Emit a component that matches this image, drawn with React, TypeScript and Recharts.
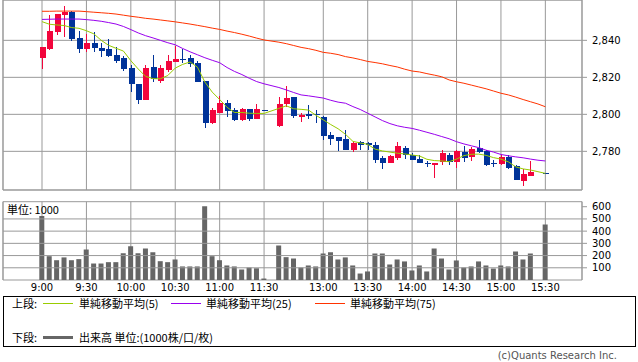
import React from "react";
import {
  ComposedChart,
  Bar,
  Line,
  XAxis,
  YAxis,
  CartesianGrid,
  ReferenceArea,
  ReferenceLine,
} from "recharts";

// slot index on the x axis -> label (slot 31 = lunch gap, slot 67 = 15:25, no trade)
const tickSlots = [0, 6, 12, 18, 24, 30, 38, 44, 50, 56, 62, 68];
const tickLabels = ["9:00", "9:30", "10:00", "10:30", "11:00", "11:30", "13:00", "13:30", "14:00", "14:30", "15:00", "15:30"];

const priceTicks = [2780, 2800, 2820, 2840];
const volumeTicks = [100, 200, 300, 400, 500, 600];
const volumeGrid = [100, 200, 300, 400, 500];

const openPrices = [
  2830.6, 2835.3, 2844.5, 2853.7, 2855.5, 2841.2, 2835.5, 2838.5, 2835.8, 2835.1,
  2832.1, 2830.6, 2825.0, 2816.4, 2807.9, 2825.6, 2818.0, 2823.8, 2828.3, 2829.9,
  2830.4, 2827.9, 2818.0, 2795.5, 2800.9, 2806.0, 2802.3, 2796.9, 2802.9, 2797.6,
  2802.4, null, 2793.7, 2805.7, 2809.2, 2798.7, 2800.2, 2800.2, 2798.7, 2788.8,
  2787.6, 2786.6, 2780.7, 2784.9, 2784.3, 2783.2, 2776.5, 2773.8, 2776.5, 2782.0,
  2777.8, 2775.8, 2773.8, 2772.8, 2774.2, 2778.0, 2774.0, 2779.6, 2776.8, 2781.6,
  2780.2, 2773.8, 2773.1, 2776.8, 2772.0, 2764.1, 2766.8, null, 2768.3,
];
const closePrices = [
  2836.5, 2845.0, 2854.2, 2855.5, 2840.7, 2835.5, 2838.5, 2836.0, 2834.4, 2831.7,
  2828.8, 2824.5, 2816.4, 2807.9, 2825.0, 2819.1, 2825.0, 2828.8, 2829.7, 2829.4,
  2827.4, 2817.6, 2795.5, 2802.3, 2806.0, 2802.0, 2796.9, 2802.9, 2797.3, 2802.9,
  2802.0, null, 2805.6, 2808.8, 2799.2, 2799.6, 2799.1, 2799.6, 2788.4, 2786.6,
  2785.6, 2780.7, 2784.6, 2783.2, 2783.2, 2775.3, 2773.8, 2777.6, 2782.9, 2778.0,
  2775.3, 2773.8, 2773.1, 2773.8, 2778.9, 2774.4, 2780.2, 2776.5, 2781.1, 2779.8,
  2772.6, 2773.3, 2776.9, 2770.8, 2764.6, 2767.7, 2769.0, null, 2768.2,
];
const highPrices = [
  2836.5, 2853.7, 2854.5, 2858.7, 2855.8, 2844.9, 2843.2, 2844.3, 2838.5, 2840.7,
  2836.5, 2831.5, 2826.6, 2816.4, 2826.6, 2832.1, 2826.6, 2832.1, 2837.1, 2835.1,
  2832.2, 2828.8, 2818.0, 2803.6, 2810.0, 2807.7, 2803.2, 2803.2, 2802.9, 2805.4,
  2802.5, null, 2809.2, 2815.3, 2809.2, 2800.5, 2805.0, 2802.3, 2799.0, 2790.3,
  2787.8, 2791.5, 2785.7, 2785.5, 2785.0, 2785.0, 2777.6, 2778.0, 2785.2, 2782.9,
  2778.9, 2778.0, 2774.8, 2773.8, 2780.7, 2779.2, 2780.7, 2783.0, 2782.5, 2786.1,
  2780.7, 2775.3, 2778.0, 2777.8, 2772.6, 2770.4, 2774.8, null, 2768.4,
];
const lowPrices = [
  2824.5, 2834.8, 2843.0, 2842.0, 2839.8, 2833.3, 2833.8, 2833.8, 2831.1, 2831.0,
  2827.6, 2823.2, 2812.2, 2805.7, 2807.9, 2817.6, 2816.9, 2823.0, 2828.3, 2827.6,
  2825.7, 2817.6, 2792.8, 2794.8, 2800.9, 2798.7, 2796.5, 2796.5, 2796.4, 2797.3,
  2801.9, null, 2793.0, 2803.8, 2797.8, 2795.7, 2797.4, 2795.1, 2786.1, 2783.4,
  2780.2, 2780.5, 2779.5, 2780.7, 2780.7, 2773.8, 2770.3, 2773.8, 2775.3, 2775.7,
  2775.3, 2773.5, 2771.7, 2765.7, 2772.6, 2772.8, 2771.1, 2774.4, 2774.9, 2778.9,
  2772.2, 2771.7, 2772.4, 2770.4, 2764.4, 2761.4, 2766.6, null, 2768.1,
];
const volumes = [
  523, 195, 162, 185, 162, 171, 250, 135, 135, 146,
  146, 220, 277, 220, 258, 228, 154, 146, 168, 111,
  111, 111, 603, 195, 162, 119, 111, 86, 102, 97,
  12, null, 283, 187, 176, 102, 119, 111, 217, 228,
  168, 185, 119, 53, 70, 217, 217, 127, 168, 152,
  78, 119, 70, 258, 176, 86, 160, 102, 111, 152,
  119, 94, 119, 111, 234, 168, 217, null, 455,
];
const ma5 = [
  2850.1, 2848.7, 2848.3, 2848.0, 2846.9, 2846.5, 2845.2, 2843.5, 2840.0, 2837.3,
  2835.7, 2834.2, 2829.0, 2824.5, 2820.5, 2819.3, 2819.2, 2821.0, 2825.0, 2827.0,
  2828.3, 2825.5, 2817.5, 2812.0, 2808.0, 2803.8, 2801.0, 2801.0, 2800.6, 2800.5,
  2800.5, null, 2803.2, 2804.6, 2803.0, 2802.7, 2802.3, 2799.5, 2797.0, 2794.5,
  2792.2, 2789.2, 2785.4, 2784.5, 2783.8, 2781.2, 2780.2, 2779.6, 2779.0, 2778.6,
  2778.0, 2777.5, 2775.7, 2775.0, 2774.8, 2774.4, 2775.8, 2777.7, 2778.4, 2778.5,
  2777.8, 2776.6, 2775.8, 2774.3, 2771.6, 2770.5, 2769.9, 2769.0, 2768.1,
];
const ma25 = [
  2851.3, 2851.4, 2851.5, 2851.5, 2851.5, 2851.5, 2851.2, 2850.8, 2850.3, 2849.6,
  2848.8, 2847.5, 2845.8, 2844.0, 2842.5, 2841.3, 2840.0, 2838.7, 2837.6, 2835.6,
  2833.8, 2832.2, 2830.6, 2829.2, 2827.9, 2825.3, 2823.2, 2821.5, 2819.5, 2817.7,
  2816.5, null, 2814.5, 2813.2, 2811.8, 2810.5, 2810.0, 2809.4, 2808.8, 2807.6,
  2806.6, 2806.0, 2804.2, 2802.6, 2800.6, 2798.6, 2796.6, 2795.0, 2793.8, 2793.0,
  2792.4, 2791.4, 2790.3, 2789.2, 2788.0, 2786.8, 2785.2, 2784.0, 2783.0, 2782.0,
  2780.6, 2779.6, 2778.3, 2777.6, 2777.0, 2776.5, 2775.8, 2775.2, 2774.8,
];
const ma75 = [
  2855.7, 2855.7, 2855.8, 2855.8, 2855.8, 2855.8, 2855.5, 2855.2, 2854.9, 2854.6,
  2854.2, 2853.6, 2853.0, 2852.5, 2851.9, 2851.5, 2851.0, 2850.5, 2850.0, 2849.4,
  2848.8, 2848.1, 2847.4, 2846.6, 2845.9, 2845.0, 2844.2, 2843.3, 2842.3, 2841.2,
  2840.2, null, 2839.0, 2838.2, 2837.2, 2836.2, 2835.5, 2834.6, 2833.5, 2833.0,
  2832.3, 2831.2, 2830.5, 2829.6, 2828.6, 2828.0, 2827.3, 2826.4, 2825.6, 2824.4,
  2823.4, 2822.9, 2822.0, 2821.2, 2820.3, 2818.6, 2817.6, 2816.8, 2815.8, 2814.8,
  2813.8, 2812.6, 2811.4, 2810.5, 2809.3, 2808.0, 2806.8, 2805.6, 2804.1,
];

const UP = "#f2053c";
const DOWN = "#003399";
const GRID = "#999";
const FONT = '"DejaVu Sans", sans-serif';
const JP_FONT = '"Noto Sans CJK JP", "DejaVu Sans", sans-serif';

const X_DOMAIN: [number, number] = [-5.27, 72.95];
const PRICE_DOMAIN: [number, number] = [2759.1, 2861.8];
const VOL_DOMAIN: [number, number] = [0, 641];

const rows = openPrices.map((o, i) => ({
  slot: i,
  range: o === null ? null : [lowPrices[i], highPrices[i]],
  open: o,
  close: closePrices[i],
  high: highPrices[i],
  low: lowPrices[i],
  volume: volumes[i],
  ma5: ma5[i],
  ma25: ma25[i],
  ma75: ma75[i],
}));

const labelOf = (v: number) => tickLabels[tickSlots.indexOf(v)] ?? "";

function Candle(props: any) {
  const { x, y, width, height, payload } = props;
  if (!payload || payload.open == null) return null;
  const { open, close, high, low } = payload;
  const k = high > low ? height / (high - low) : 0;
  const yo = y + (high - open) * k;
  const yc = y + (high - close) * k;
  const color = close >= open ? UP : DOWN;
  const cx = Math.floor(x + width / 2) + 0.5;
  const top = Math.min(yo, yc);
  const h = Math.max(Math.abs(yo - yc), 1);
  return (
    <g shapeRendering="crispEdges">
      <line x1={cx} x2={cx} y1={y} y2={y + Math.max(height, 1)} stroke={color} strokeWidth={1} />
      <rect x={cx - 3} y={top} width={6} height={h} fill={color} />
    </g>
  );
}

function PriceChart() {
  return (
    <ComposedChart width={638} height={191} data={rows} margin={{ top: 0, right: 0, bottom: 1, left: 3 }}>
      <CartesianGrid stroke={GRID} />
      <XAxis
        dataKey="slot"
        type="number"
        domain={X_DOMAIN}
        allowDataOverflow
        ticks={tickSlots}
        interval={0}
        hide
      />
      <YAxis
        orientation="right"
        width={56}
        domain={PRICE_DOMAIN}
        allowDataOverflow
        ticks={priceTicks}
        interval={0}
        axisLine={false}
        tickSize={5}
        tickMargin={5}
        tickLine={{ stroke: GRID }}
        tick={{ fill: "#000", fontSize: 10, fontFamily: FONT }}
        tickFormatter={(v: number) => v.toLocaleString("en-US")}
      />
      <ReferenceArea
        x1={X_DOMAIN[0]}
        x2={X_DOMAIN[1]}
        y1={PRICE_DOMAIN[0]}
        y2={PRICE_DOMAIN[1]}
        fill="none"
        stroke={GRID}
        ifOverflow="visible"
      />
      <Bar dataKey="range" barSize={6} shape={<Candle />} isAnimationActive={false} />
      <Line dataKey="ma75" type="linear" stroke="#ff3300" strokeWidth={1} dot={false} connectNulls isAnimationActive={false} />
      <Line dataKey="ma25" type="linear" stroke="#9900ee" strokeWidth={1} dot={false} connectNulls isAnimationActive={false} />
      <Line dataKey="ma5" type="linear" stroke="#99cc00" strokeWidth={1} dot={false} connectNulls isAnimationActive={false} />
    </ComposedChart>
  );
}

function VolumeChart() {
  return (
    <ComposedChart width={638} height={105} data={rows} margin={{ top: 6.7, right: 0, bottom: 0, left: 3 }}>
      <CartesianGrid stroke={GRID} horizontal={false} />
      <XAxis
        dataKey="slot"
        type="number"
        domain={X_DOMAIN}
        allowDataOverflow
        ticks={tickSlots}
        interval={0}
        height={20}
        axisLine={false}
        tickLine={false}
        tickSize={0}
        tickMargin={4}
        tick={{ fill: "#000", fontSize: 10, fontFamily: FONT }}
        tickFormatter={labelOf}
      />
      <YAxis
        orientation="right"
        width={56}
        domain={VOL_DOMAIN}
        allowDataOverflow
        ticks={volumeTicks}
        interval={0}
        axisLine={false}
        tickSize={5}
        tickMargin={5}
        tickLine={{ stroke: GRID }}
        tick={{ fill: "#000", fontSize: 10, fontFamily: FONT }}
      />
      {volumeGrid.map((v) => (
        <ReferenceLine key={v} y={v} stroke={GRID} />
      ))}
      <ReferenceArea
        x1={X_DOMAIN[0]}
        x2={X_DOMAIN[1]}
        y1={VOL_DOMAIN[0]}
        y2={VOL_DOMAIN[1]}
        fill="none"
        stroke={GRID}
        ifOverflow="visible"
      />
      <Bar dataKey="volume" barSize={5} fill="#666" isAnimationActive={false} />
    </ComposedChart>
  );
}

const legendText: React.CSSProperties = {
  position: "absolute",
  fontFamily: JP_FONT,
  fontSize: 11,
  color: "#000",
  lineHeight: "14px",
  whiteSpace: "nowrap",
};

function Swatch({ left, top, color, thick }: { left: number; top: number; color: string; thick?: boolean }) {
  const h = thick ? 3 : 1;
  return (
    <div style={{ position: "absolute", left, top: top - Math.floor(h / 2), width: 30, height: h, background: color }} />
  );
}

export default function App() {
  return (
    <div style={{ position: "absolute", left: 0, top: 0, width: 638, height: 362, background: "#fff", overflow: "hidden" }}>
      <div style={{ position: "absolute", left: 0, top: 0 }}>
        <PriceChart />
      </div>
      <div style={{ position: "absolute", left: 0, top: 195 }}>
        <VolumeChart />
      </div>
      <div style={{ ...legendText, left: 7, top: 202, fontSize: 11 }}>単位: 1000</div>

      <div style={{ position: "absolute", left: 3, top: 296, width: 631, height: 49, border: "1px solid #000" }} />
      <div style={{ ...legendText, left: 12, top: 296 }}>上段:</div>
      <Swatch left={43} top={303} color="#99cc00" />
      <div style={{ ...legendText, left: 79, top: 296 }}>単純移動平均(5)</div>
      <Swatch left={171} top={303} color="#9900ee" />
      <div style={{ ...legendText, left: 206, top: 296 }}>単純移動平均(25)</div>
      <Swatch left={315} top={303} color="#ff3300" />
      <div style={{ ...legendText, left: 350, top: 296 }}>単純移動平均(75)</div>

      <div style={{ ...legendText, left: 12, top: 330 }}>下段:</div>
      <Swatch left={43} top={337} color="#666" thick />
      <div style={{ ...legendText, left: 79, top: 330 }}>出来高 単位:(1000株/口/枚)</div>

      <div style={{ position: "absolute", right: 21, top: 350, fontFamily: FONT, fontSize: 10, color: "#555", whiteSpace: "nowrap" }}>
        (c)Quants Research Inc.
      </div>
    </div>
  );
}
